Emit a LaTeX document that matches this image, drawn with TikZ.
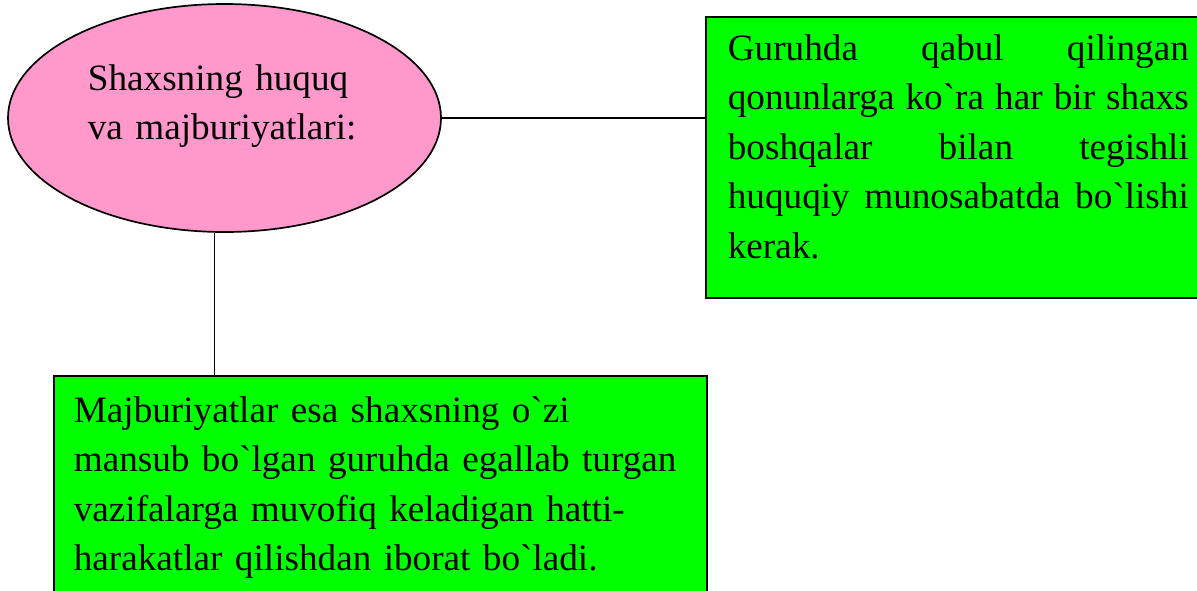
\documentclass[tikz,border=0pt]{standalone}
\usepackage{fontspec}
\setmainfont{Liberation Serif}[Ligatures=TeXOff]
\usetikzlibrary{shapes.geometric, positioning}
\definecolor{pushti}{RGB}{255,153,204}
\definecolor{yashil}{RGB}{0,255,0}

\begin{document}
\begin{tikzpicture}[x=0.5pt, y=-0.5pt, line width=0.85pt,
    matn/.style={font=\fontsize{18.6}{24.75}\selectfont, inner sep=0pt},
    quti/.style={draw, fill=yashil, rectangle, inner sep=0pt}]
    \useasboundingbox (0,0) rectangle (1197,590);

    % ellips
    \node[ellipse, draw, fill=pushti, minimum width=216.5pt, minimum height=114pt, inner sep=0pt] (shaxs) at (224.5,118) {};
    \node[matn, anchor=base west, text width=160pt, align=left] (shaxsmatn) at (87,90) {Shaxsning huquq\\va majburiyatlari:};

    % o'ngdagi quti
    \node[quti, anchor=north west, minimum width=260pt, minimum height=140.5pt] (huquq) at (705,16) {};
    \node[matn, anchor=base west, text width=230.5pt, align=justify] (huquqmatn) at (727,60)
        {\hyphenpenalty=10000 Guruhda qabul qilingan\linebreak qonunlarga ko`ra har bir shaxs\linebreak boshqalar bilan tegishli\linebreak huquqiy munosabatda bo`lishi\linebreak kerak.};

    % pastdagi quti
    \node[quti, anchor=north west, minimum width=326.5pt, minimum height=125pt] (burch) at (53,375) {};
    \node[matn, anchor=base west, text width=305pt, align=left] (burchmatn) at (73,422)
        {Majburiyatlar esa shaxsning o`zi\\mansub bo`lgan guruhda egallab turgan\\vazifalarga muvofiq keladigan hatti-\\harakatlar qilishdan iborat bo`ladi.};

    % bog'lovchi chiziqlar
    \draw (shaxs.east) -- (shaxs.east -| huquq.west);
    \draw (shaxs.-95.5) -- (shaxs.-95.5 |- burch.north);
\end{tikzpicture}
\end{document}
